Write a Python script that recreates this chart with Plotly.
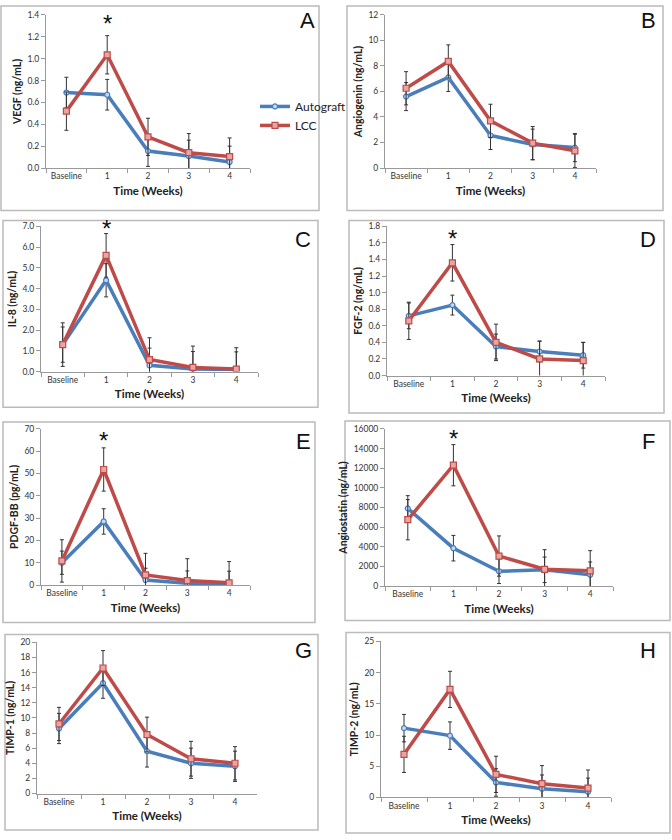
import plotly.graph_objects as go

W, H = 672, 840
categories = ["Baseline", "1", "2", "3", "4"]

panel_letters = ["A", "B", "C", "D", "E", "F", "G", "H"]
y_titles = ["VEGF (ng/mL)", "Angiogenin (ng/mL)", "IL-8 (ng/mL)", "FGF-2 (ng/mL)",
            "PDGF-BB (pg/mL)", "Angiostatin (ng/mL)", "TIMP-1 (ng/mL)", "TIMP-2 (ng/mL)"]
y_max = [1.4, 12, 7.0, 1.8, 70, 16000, 20, 25]
y_dtick = [0.2, 2, 1.0, 0.2, 10, 2000, 2, 5]
y_fmt = [".1f", "d", ".1f", ".1f", "d", "d", "d", "d"]

autograft_A = [0.69, 0.67, 0.155, 0.11, 0.055]
lcc_A = [0.52, 1.035, 0.285, 0.14, 0.105]
autograft_err_A = [0.14, 0.14, 0.14, 0.145, 0.145]
lcc_err_A = [0.175, 0.175, 0.17, 0.175, 0.17]

autograft_B = [5.6, 7.1, 2.55, 1.85, 1.6]
lcc_B = [6.25, 8.35, 3.7, 1.95, 1.35]
autograft_err_B = [1.1, 1.1, 1.1, 1.2, 1.1]
lcc_err_B = [1.3, 1.3, 1.3, 1.3, 1.3]

autograft_C = [1.3, 4.4, 0.3, 0.12, 0.1]
lcc_C = [1.3, 5.6, 0.58, 0.2, 0.12]
autograft_err_C = [0.85, 0.8, 0.83, 0.85, 0.85]
lcc_err_C = [1.05, 1.05, 1.05, 1.03, 1.03]

autograft_D = [0.72, 0.85, 0.35, 0.29, 0.245]
lcc_D = [0.66, 1.36, 0.40, 0.20, 0.18]
autograft_err_D = [0.155, 0.12, 0.15, 0.125, 0.155]
lcc_err_D = [0.225, 0.22, 0.22, 0.215, 0.22]

autograft_E = [10, 28.5, 2.2, 0.8, 0.5]
lcc_E = [10.8, 51.8, 4.5, 2.0, 1.0]
autograft_err_E = [5.2, 5.7, 5.3, 5.5, 5.7]
lcc_err_E = [9.5, 9.7, 9.7, 9.8, 9.5]

autograft_F = [7900, 3850, 1500, 1650, 1150]
lcc_F = [6750, 12300, 3050, 1700, 1550]
autograft_err_F = [1300, 1300, 1250, 1300, 1300]
lcc_err_F = [2050, 2100, 2050, 2000, 2050]

autograft_G = [8.6, 14.6, 5.6, 4.0, 3.6]
lcc_G = [9.2, 16.6, 7.8, 4.6, 4.0]
autograft_err_G = [2.0, 2.0, 2.1, 2.0, 2.0]
lcc_err_G = [2.2, 2.3, 2.3, 2.3, 2.2]

autograft_H = [11.1, 9.9, 2.4, 1.4, 0.9]
lcc_H = [6.9, 17.3, 3.7, 2.2, 1.5]
autograft_err_H = [2.2, 2.2, 2.2, 2.2, 2.2]
lcc_err_H = [2.9, 2.9, 2.9, 2.9, 2.9]

autograft = [autograft_A, autograft_B, autograft_C, autograft_D,
             autograft_E, autograft_F, autograft_G, autograft_H]
lcc = [lcc_A, lcc_B, lcc_C, lcc_D, lcc_E, lcc_F, lcc_G, lcc_H]
autograft_err = [autograft_err_A, autograft_err_B, autograft_err_C, autograft_err_D,
                 autograft_err_E, autograft_err_F, autograft_err_G, autograft_err_H]
lcc_err = [lcc_err_A, lcc_err_B, lcc_err_C, lcc_err_D,
           lcc_err_E, lcc_err_F, lcc_err_G, lcc_err_H]

asterisk_y = [1.32, None, 6.9, 1.65, 65, 15000, None, None]

plot_px = [  # x0, x1, y_top, y_bottom
    (46, 250, 10, 165),
    (385, 596, 10, 165),
    (41, 258, 224, 371),
    (387, 605, 224, 375),
    (41, 250, 429, 587),
    (385, 613, 429, 588),
    (37, 257, 645, 798),
    (381, 611, 644, 802),
]
box_px = [
    (1, 319, 1, 208),
    (347, 663, 1, 208),
    (3, 318, 218, 407),
    (349, 664, 218, 413),
    (3, 315, 422, 625),
    (345, 670, 421, 623),
    (5, 318, 637, 835),
    (346, 670, 635, 838),
]
letter_px = [(307, 16), (648, 16), (303, 237), (648, 237),
             (303, 442), (648, 442), (303, 653), (648, 653)]

BLUE = "#4A7EBB"
RED = "#BE4B48"
FONT = "Lato"

fig = go.Figure()
layout = dict(
    width=W, height=H,
    margin=dict(l=0, r=0, t=0, b=0),
    paper_bgcolor="white", plot_bgcolor="white",
    font=dict(family=FONT, color="#222"),
    showlegend=True,
    legend=dict(x=255 / W, y=1 - 88 / H, xanchor="left", yanchor="top",
                font=dict(size=12, family=FONT, color="#222"),
                bgcolor="rgba(0,0,0,0)", tracegroupgap=0, itemwidth=30),
    shapes=[], annotations=[],
)

for i in range(8):
    n = "" if i == 0 else str(i + 1)
    xa, ya = "x" + n, "y" + n
    x0, x1, yt, yb = plot_px[i]
    layout["xaxis" + n] = dict(
        domain=[x0 / W, x1 / W], anchor=ya, type="category",
        categoryorder="array", categoryarray=categories,
        range=[-0.5, 4.5], tickson="boundaries", ticks="outside", ticklen=4,
        tickcolor="#999", showline=True, linecolor="#999", linewidth=1,
        showgrid=False, zeroline=False,
        tickfont=dict(size=8.5, family=FONT, color="#333"),
        title=dict(text="<b>Time (Weeks)</b>", font=dict(size=11.5, family=FONT, color="#222"),
                   standoff=6),
        fixedrange=True,
    )
    layout["yaxis" + n] = dict(
        domain=[1 - yb / H, 1 - yt / H], anchor=xa,
        range=[0, y_max[i]], dtick=y_dtick[i], tick0=0, tickformat=y_fmt[i],
        ticks="outside", ticklen=4, tickcolor="#999",
        showline=True, linecolor="#999", linewidth=1,
        showgrid=False, zeroline=False,
        tickfont=dict(size=8.5, family=FONT, color="#333"),
        title=dict(text="<b>" + y_titles[i] + "</b>", font=dict(size=10.5, family=FONT, color="#222"),
                   standoff=3),
        fixedrange=True,
    )
    fig.add_trace(go.Scatter(
        x=categories, y=autograft[i], xaxis=xa, yaxis=ya,
        mode="lines+markers", name="Autograft", legendgroup="a", showlegend=(i == 0),
        line=dict(color=BLUE, width=3.5),
        marker=dict(symbol="circle", size=5, color="#C6D9F1", line=dict(color=BLUE, width=1.2)),
        error_y=dict(type="data", array=autograft_err[i], visible=True,
                     color="#333", thickness=1, width=2),
    ))
    fig.add_trace(go.Scatter(
        x=categories, y=lcc[i], xaxis=xa, yaxis=ya,
        mode="lines+markers", name="LCC", legendgroup="b", showlegend=(i == 0),
        line=dict(color=RED, width=3.5),
        marker=dict(symbol="square", size=6, color="#E6A6A4", line=dict(color=RED, width=1.2)),
        error_y=dict(type="data", array=lcc_err[i], visible=True,
                     color="#333", thickness=1, width=2),
    ))
    bx0, bx1, by0, by1 = box_px[i]
    layout["shapes"].append(dict(
        type="rect", xref="paper", yref="paper",
        x0=bx0 / W, x1=bx1 / W, y0=1 - by1 / H, y1=1 - by0 / H,
        line=dict(color="#BBBBBB", width=1.5), fillcolor="rgba(0,0,0,0)", layer="below"))
    lx, ly = letter_px[i]
    layout["annotations"].append(dict(
        text=panel_letters[i], xref="paper", yref="paper", x=lx / W, y=1 - ly / H,
        xanchor="center", yanchor="middle", showarrow=False,
        font=dict(size=22, family="Liberation Sans", color="#111")))
    if asterisk_y[i] is not None:
        layout["annotations"].append(dict(
            text="*", xref=xa, yref=ya, x="1", y=asterisk_y[i],
            xanchor="center", yanchor="middle", showarrow=False,
            font=dict(size=24, family="Liberation Sans", color="#111")))

fig.update_layout(**layout)
fig.write_html(
    "out.html",
    config={"displayModeBar": False},
    post_script="document.body.style.margin='0';document.body.style.overflow='hidden';",
)
